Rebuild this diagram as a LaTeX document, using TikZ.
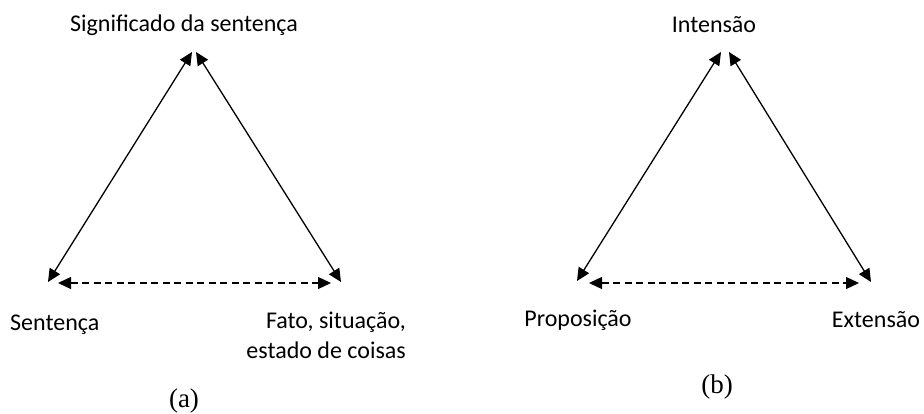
\documentclass[tikz,border=0pt]{standalone}
\usepackage{fontspec}
\setmainfont{Carlito}
\newfontfamily\capfont{Liberation Serif}
\usetikzlibrary{arrows.meta}
\begin{document}
\begin{tikzpicture}[x=1pt,y=-1pt,
  lbl/.style={inner sep=0pt,font=\fontsize{24}{30}\selectfont},
  caplbl/.style={inner sep=0pt,font=\capfont\fontsize{27}{30}\selectfont},
  link/.style={line width=1.3pt,{Triangle[length=13pt,width=12pt]}-{Triangle[length=13pt,width=12pt]}},
  dlink/.style={link,dash pattern=on 7pt off 4.5pt}]
\useasboundingbox (0,0) rectangle (924,414);
% panel (a)
\coordinate (aTL) at (192,52);
\coordinate (aTR) at (196,52);
\coordinate (aBL) at (48,282);
\coordinate (aBR) at (341,282);
\coordinate (aDL) at (58,283);
\coordinate (aDR) at (331,283);
\draw[link] (aBL) -- (aTL);
\draw[link] (aTR) -- (aBR);
\draw[dlink] (aDL) -- (aDR);
\node[lbl] (aTop) at (184,25) {Significado da sentença};
\node[lbl,anchor=west] (aLeft) at (10,325) {Sentença};
\node[lbl,anchor=east,align=right] (aRight) at (406,335) {Fato, situação,\\estado de coisas};
\node[caplbl] (aCap) at (184,401) {(a)};
% panel (b)
\coordinate (bTL) at (721,52);
\coordinate (bTR) at (729,52);
\coordinate (bBL) at (577,281);
\coordinate (bBR) at (871,282);
\coordinate (bDL) at (589,283);
\coordinate (bDR) at (859,283);
\draw[link] (bBL) -- (bTL);
\draw[link] (bTR) -- (bBR);
\draw[dlink] (bDL) -- (bDR);
\node[lbl] (bTop) at (714,25) {Intensão};
\node[lbl] (bLeft) at (578,320) {Proposição};
\node[lbl] (bRight) at (876,320) {Extensão};
\node[caplbl] (bCap) at (717,387) {(b)};
\end{tikzpicture}
\end{document}
